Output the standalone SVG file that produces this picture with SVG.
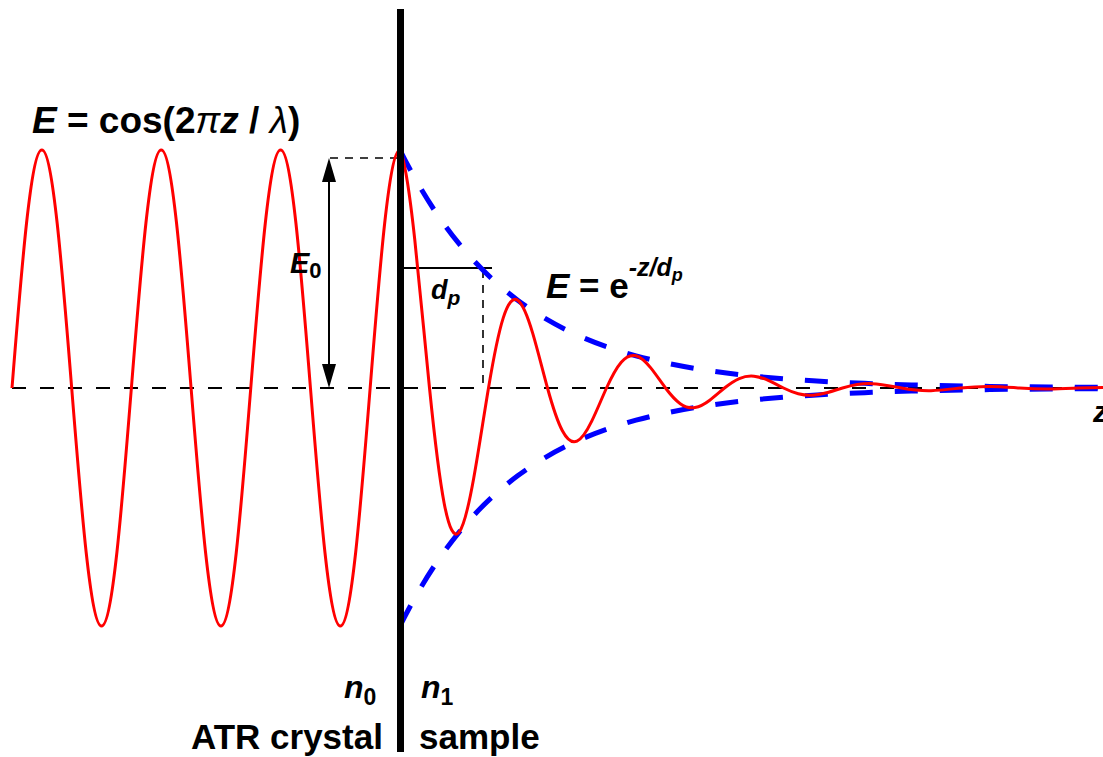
<svg xmlns="http://www.w3.org/2000/svg" width="1103" height="757" viewBox="0 0 1103 757">
<defs>
<style>
.wave{fill:none;stroke:#ff0000;stroke-width:3;stroke-linejoin:round}
.env{fill:none;stroke:#0000ff;stroke-width:5;stroke-dasharray:23 22}
.axis{fill:none;stroke:#000;stroke-width:2;stroke-dasharray:14 14}
.guide{fill:none;stroke:#000;stroke-width:1.6;stroke-dasharray:8 7}
.solid{fill:none;stroke:#000;stroke-width:2}
text{font-family:"Liberation Sans",Arial,sans-serif;font-weight:bold;fill:#000}
.it{font-style:italic}
</style>
</defs>
<rect width="1103" height="757" fill="#fff"/>
<g id="connectors">
<path id="axis" class="axis" d="M12,388 H1103"/>
<path id="e0-guide" class="guide" d="M330,158 H398"/>
<path id="dp-guide" class="guide" d="M483,270 V388"/>
<path id="dp-line" class="solid" d="M402,268 H492"/>
<g id="e0-arrow">
<path class="solid" d="M329,175 V372"/>
<path d="M329,158 L322,182 L336,182 Z" fill="#000"/>
<path d="M329,388 L322,364 L336,364 Z" fill="#000"/>
</g>
</g>
<g id="incident-wave">
<path class="wave" d="M12,388 C21.73,266.1 31.04,150 41.85,150 C52.65,150 61.96,266.1 71.69,388 C81.42,509.9 90.73,626 101.54,626 C112.34,626 121.65,509.9 131.38,388 C141.11,266.1 150.42,150 161.23,150 C172.03,150 181.34,266.1 191.08,388 C200.81,509.9 210.12,626 220.92,626 C231.72,626 241.03,509.9 250.77,388 C260.5,266.1 269.81,150 280.61,150 C291.41,150 300.72,266.1 310.46,388 C320.19,509.9 329.5,626 340.31,626 C351.11,626 360.42,509.9 370.15,388 C379.88,266.1 389.19,150 400,150"/>
</g>
<g id="envelope">
<path class="env" d="M400,150 C419.67,189.67 439.33,219.59 459,243.65 C478.67,267.71 498.33,285.85 518,300.44 C537.67,315.03 557.33,326.05 577,334.90 C596.67,343.75 616.33,350.42 636,355.79 C655.67,361.16 675.33,365.20 695,368.46 C714.67,371.72 734.33,374.18 754,376.15 C773.67,378.13 793.33,379.61 813,380.81 C832.67,382.01 852.33,382.91 872,383.64 C891.67,384.37 911.33,384.92 931,385.36 C950.67,385.80 970.33,386.13 990,386.40 C1009.67,386.67 1029.33,386.87 1049,387.03 C1068.67,387.19 1088.33,387.31 1108,387.41"/>
<path class="env" d="M400,626 C419.67,586.33 439.33,556.41 459,532.35 C478.67,508.29 498.33,490.15 518,475.56 C537.67,460.97 557.33,449.95 577,441.10 C596.67,432.25 616.33,425.58 636,420.21 C655.67,414.84 675.33,410.80 695,407.54 C714.67,404.28 734.33,401.82 754,399.85 C773.67,397.87 793.33,396.39 813,395.19 C832.67,393.99 852.33,393.09 872,392.36 C891.67,391.63 911.33,391.08 931,390.64 C950.67,390.20 970.33,389.87 990,389.60 C1009.67,389.33 1029.33,389.13 1049,388.97 C1068.67,388.81 1088.33,388.69 1108,388.59"/>
</g>
<g id="evanescent-wave">
<path class="wave" d="M400,150 C404.92,159.92 409.83,194.41 414.75,239.48 C419.67,284.55 424.58,339.47 429.5,388 C434.42,436.53 439.33,478.20 444.25,503.66 C449.17,529.12 454.08,538.36 459,532.35 C463.92,526.34 468.83,505.42 473.75,478.08 C478.67,450.74 483.58,417.43 488.5,388 C493.42,358.57 498.33,333.29 503.25,317.85 C508.17,302.41 513.08,296.79 518,300.44 C522.92,304.09 527.83,316.78 532.75,333.36 C537.67,349.94 542.58,370.15 547.5,388 C552.42,405.85 557.33,421.18 562.25,430.55 C567.17,439.92 572.08,443.31 577,441.10 C581.92,438.89 586.83,431.20 591.75,421.14 C596.67,411.08 601.58,398.83 606.5,388 C611.42,377.17 616.33,367.87 621.25,362.19 C626.17,356.51 631.08,354.45 636,355.79 C640.92,357.13 645.83,361.80 650.75,367.90 C655.67,374.00 660.58,381.43 665.5,388 C670.42,394.57 675.33,400.20 680.25,403.65 C685.17,407.10 690.08,408.35 695,407.54 C699.92,406.73 704.83,403.89 709.75,400.19 C714.67,396.49 719.58,391.98 724.5,388 C729.42,384.02 734.33,380.60 739.25,378.51 C744.17,376.42 749.08,375.66 754,376.15 C758.92,376.64 763.83,378.37 768.75,380.61 C773.67,382.85 778.58,385.58 783.5,388 C788.42,390.42 793.33,392.49 798.25,393.76 C803.17,395.03 808.08,395.49 813,395.19 C817.92,394.89 822.83,393.85 827.75,392.49 C832.67,391.13 837.58,389.47 842.5,388 C847.42,386.53 852.33,385.28 857.25,384.51 C862.17,383.74 867.08,383.46 872,383.64 C881.83,384.00 891.67,386.22 901.5,388 C911.33,389.78 921.17,390.86 931,390.64 C940.83,390.42 950.67,389.08 960.5,388 C970.33,386.92 980.17,386.27 990,386.40 C999.83,386.53 1009.67,387.35 1019.5,388 C1029.33,388.65 1039.17,389.05 1049,388.97 C1058.83,388.89 1068.67,388.40 1078.5,388 C1088.33,387.60 1098.17,387.36 1108,387.41"/>
</g>
<g id="interface">
<rect x="397" y="9" width="7" height="743" fill="#000"/>
</g>
<g id="labels">
<text id="title" x="32" y="133" font-size="37"><tspan class="it">E</tspan> = cos(2<tspan class="it" font-weight="normal">π</tspan><tspan class="it">z</tspan> / <tspan class="it" font-weight="normal">λ</tspan>)</text>
<text id="e0-label" x="290" y="273" font-size="29"><tspan class="it">E</tspan><tspan font-size="22" dy="5">0</tspan></text>
<text id="dp-label" x="431" y="299" font-size="27"><tspan class="it">d</tspan><tspan class="it" font-size="21" dy="6">p</tspan></text>
<text id="exp-label" x="546" y="298" font-size="35"><tspan class="it">E</tspan> = e<tspan font-size="25" dy="-22" class="it">-z/d</tspan><tspan font-size="18" dy="5" class="it">p</tspan></text>
<text id="z-label" x="1093" y="422" font-size="30" class="it">z</text>
<text id="n0-label" x="344" y="698" font-size="32" class="it">n<tspan font-size="23" dy="7" font-style="normal">0</tspan></text>
<text id="n1-label" x="421" y="698" font-size="32" class="it">n<tspan font-size="23" dy="7" font-style="normal">1</tspan></text>
<text id="atr-label" x="191" y="749" font-size="35">ATR crystal</text>
<text id="sample-label" x="419" y="749" font-size="35">sample</text>
</g>
</svg>
